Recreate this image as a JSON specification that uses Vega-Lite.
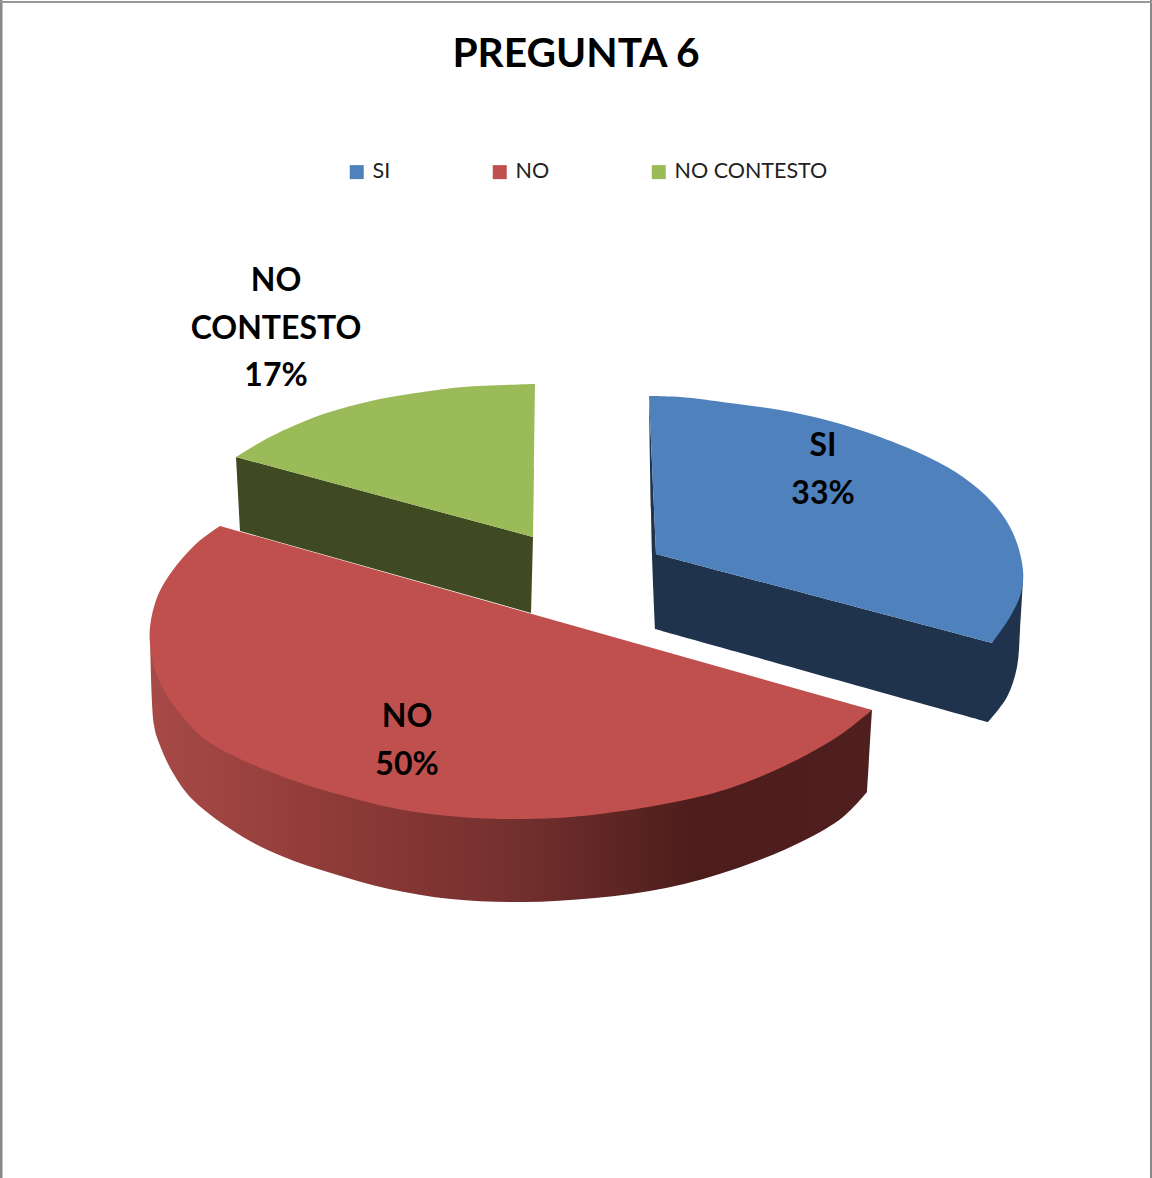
{
"$schema":"https://vega.github.io/schema/vega-lite/v6.json",
"autosize":{"type":"none"},"padding":0,"width":1152,"height":1178,"background":"white",
"view":{"stroke":null},
"title":{"text":"PREGUNTA 6","font":"Lato","fontSize":40.7,"fontWeight":"bold","color":"#000000","anchor":"middle","orient":"top","baseline":"alphabetic","dy":109,"offset":0},
"datasets":{
"outline":[
{"cat":"NO CONTESTO","seq":1,"x":236,"y":457},{"cat":"NO CONTESTO","seq":2,"x":268,"y":438},{"cat":"NO CONTESTO","seq":3,"x":310,"y":419},{"cat":"NO CONTESTO","seq":4,"x":340,"y":409},{"cat":"NO CONTESTO","seq":5,"x":380,"y":399},{"cat":"NO CONTESTO","seq":6,"x":423,"y":392},{"cat":"NO CONTESTO","seq":7,"x":463,"y":387},{"cat":"NO CONTESTO","seq":8,"x":535,"y":384},{"cat":"NO CONTESTO","seq":9,"x":535,"y":384},{"cat":"NO CONTESTO","seq":10,"x":534,"y":470},{"cat":"NO CONTESTO","seq":11,"x":533,"y":537},{"cat":"NO CONTESTO","seq":12,"x":533,"y":537},
{"cat":"SI","seq":1,"x":649,"y":396},{"cat":"SI","seq":2,"x":680,"y":397},{"cat":"SI","seq":3,"x":730,"y":403},{"cat":"SI","seq":4,"x":780,"y":410},{"cat":"SI","seq":5,"x":830,"y":421},{"cat":"SI","seq":6,"x":880,"y":437},{"cat":"SI","seq":7,"x":930,"y":458},{"cat":"SI","seq":8,"x":963,"y":477},{"cat":"SI","seq":9,"x":993,"y":503},{"cat":"SI","seq":10,"x":1013,"y":533},{"cat":"SI","seq":11,"x":1023,"y":570},{"cat":"SI","seq":12,"x":1021,"y":593},{"cat":"SI","seq":13,"x":1010,"y":617},{"cat":"SI","seq":14,"x":992,"y":643},{"cat":"SI","seq":15,"x":992,"y":643},{"cat":"SI","seq":16,"x":656,"y":554},{"cat":"SI","seq":17,"x":656,"y":554},
{"cat":"NO","seq":1,"x":220,"y":526},{"cat":"NO","seq":2,"x":197,"y":543},{"cat":"NO","seq":3,"x":173,"y":570},{"cat":"NO","seq":4,"x":158,"y":595},{"cat":"NO","seq":5,"x":150,"y":627},{"cat":"NO","seq":6,"x":151,"y":653},{"cat":"NO","seq":7,"x":156,"y":673},{"cat":"NO","seq":8,"x":172,"y":703},{"cat":"NO","seq":9,"x":202,"y":737},{"cat":"NO","seq":10,"x":236,"y":757},{"cat":"NO","seq":11,"x":298,"y":782},{"cat":"NO","seq":12,"x":341,"y":795},{"cat":"NO","seq":13,"x":403,"y":810},{"cat":"NO","seq":14,"x":475,"y":818},{"cat":"NO","seq":15,"x":523,"y":819},{"cat":"NO","seq":16,"x":571,"y":817},{"cat":"NO","seq":17,"x":642,"y":808},{"cat":"NO","seq":18,"x":714,"y":793},{"cat":"NO","seq":19,"x":762,"y":776},{"cat":"NO","seq":20,"x":810,"y":753},{"cat":"NO","seq":21,"x":843,"y":733},{"cat":"NO","seq":22,"x":872,"y":710},{"cat":"NO","seq":23,"x":872,"y":710}
],
"sideGreen":[{"seq":1,"x":236,"y":457},{"seq":2,"x":533,"y":537},{"seq":3,"x":531,"y":613},{"seq":4,"x":240,"y":531}],
"sideBlue":[{"seq":1,"x":649,"y":396},{"seq":2,"x":649,"y":396},{"seq":3,"x":652,"y":555},{"seq":4,"x":655,"y":629},{"seq":5,"x":655,"y":629},{"seq":6,"x":988,"y":722},{"seq":7,"x":988,"y":722},{"seq":8,"x":1007,"y":697},{"seq":9,"x":1017,"y":667},{"seq":10,"x":1020,"y":630},{"seq":11,"x":1023,"y":580},{"seq":12,"x":1023,"y":580},{"seq":13,"x":992,"y":643},{"seq":14,"x":992,"y":643},{"seq":15,"x":656,"y":554},{"seq":16,"x":656,"y":554}],
"sideRed":[{"seq":1,"x":150,"y":627},{"seq":2,"x":154,"y":725},{"seq":3,"x":159,"y":743},{"seq":4,"x":173,"y":773},{"seq":5,"x":193,"y":800},{"seq":6,"x":243,"y":837},{"seq":7,"x":284,"y":857},{"seq":8,"x":331,"y":873},{"seq":9,"x":389,"y":889},{"seq":10,"x":451,"y":899},{"seq":11,"x":523,"y":902},{"seq":12,"x":595,"y":898},{"seq":13,"x":666,"y":888},{"seq":14,"x":738,"y":868},{"seq":15,"x":805,"y":840},{"seq":16,"x":843,"y":817},{"seq":17,"x":867,"y":792},{"seq":18,"x":867,"y":792},{"seq":19,"x":872,"y":710},{"seq":20,"x":872,"y":710},{"seq":21,"x":523,"y":700},{"seq":22,"x":523,"y":700}],
"labels":[
{"cat":"SI","label":"SI\n33%","x":823,"y":446},
{"cat":"NO","label":"NO\n50%","x":407,"y":717},
{"cat":"NO CONTESTO","label":"NO\nCONTESTO\n17%","x":276,"y":281}
]},
"layer":[
{"data":{"name":"sideGreen"},"mark":{"type":"line","fill":"#3f4a23","strokeWidth":0},"encoding":{"x":{"field":"x","type":"quantitative","scale":{"domain":[0,1152],"nice":false},"axis":null},"y":{"field":"y","type":"quantitative","scale":{"domain":[1178,0],"nice":false},"axis":null},"order":{"field":"seq"}}},
{"data":{"name":"sideBlue"},"mark":{"type":"line","interpolate":"catmull-rom","fill":"#1f334d","strokeWidth":0},"encoding":{"x":{"field":"x","type":"quantitative","axis":null},"y":{"field":"y","type":"quantitative","axis":null},"order":{"field":"seq"}}},
{"data":{"name":"sideRed"},"mark":{"type":"line","interpolate":"catmull-rom","strokeWidth":0,"fill":{"gradient":"linear","x1":0,"y1":0,"x2":1,"y2":0,"stops":[{"offset":0,"color":"#a84a47"},{"offset":0.25,"color":"#8f3b38"},{"offset":0.5,"color":"#74302e"},{"offset":0.76,"color":"#4c1d1b"},{"offset":1,"color":"#4f1f1f"}]}},"encoding":{"x":{"field":"x","type":"quantitative","axis":null},"y":{"field":"y","type":"quantitative","axis":null},"order":{"field":"seq"}}},
{"data":{"name":"outline"},"mark":{"type":"line","interpolate":"catmull-rom","strokeWidth":0},"encoding":{"x":{"field":"x","type":"quantitative","axis":null},"y":{"field":"y","type":"quantitative","axis":null},"order":{"field":"seq"},
"fill":{"field":"cat","type":"nominal","scale":{"domain":["SI","NO","NO CONTESTO"],"range":["#4f81bd","#c0504d","#9bbb59"]},"legend":{"title":null,"orient":"none","legendX":346,"legendY":161,"direction":"horizontal","columns":3,"columnPadding":98,"symbolType":"square","symbolSize":196,"symbolStrokeWidth":0,"labelFont":"Lato","labelFontSize":21.5,"labelColor":"#222222","labelOffset":5,"labelLimit":400}}}},
{"data":{"name":"labels"},"mark":{"type":"text","font":"Lato","fontWeight":"bold","fontSize":32,"color":"#000000","align":"center","baseline":"middle","lineBreak":"\n","lineHeight":47.5},"encoding":{"x":{"field":"x","type":"quantitative","axis":null},"y":{"field":"y","type":"quantitative","axis":null},"text":{"field":"label"}}},
{"data":{"values":[{"edge":1}]},"mark":{"type":"rule","color":"#888888","strokeWidth":3},"encoding":{"x":{"field":"edge","type":"quantitative","axis":null}}},
{"data":{"values":[{"edge":1151}]},"mark":{"type":"rule","color":"#888888","strokeWidth":2},"encoding":{"x":{"field":"edge","type":"quantitative","axis":null}}},
{"data":{"values":[{"edge":2}]},"mark":{"type":"rule","color":"#999999","strokeWidth":2},"encoding":{"y":{"field":"edge","type":"quantitative","axis":null}}}
]
}
